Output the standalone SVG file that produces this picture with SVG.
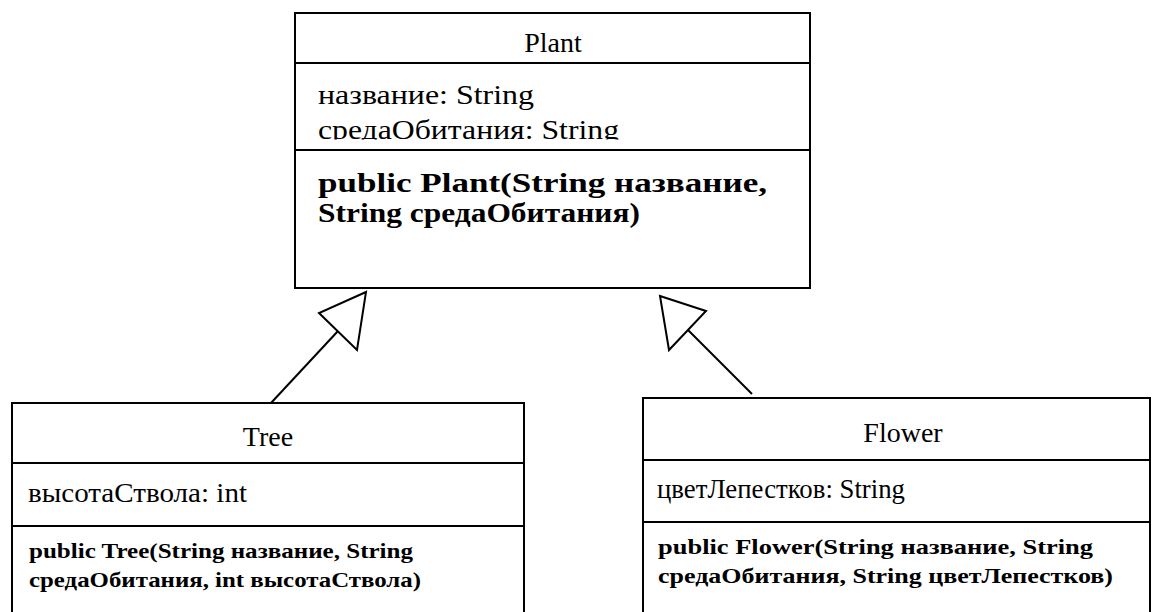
<svg xmlns="http://www.w3.org/2000/svg" width="1165" height="612" viewBox="0 0 1165 612">
  <style>
    .box { fill: #ffffff; stroke: #000000; stroke-width: 2; }
    .div { stroke: #000000; stroke-width: 2; }
    .title { font-size: 28px; text-anchor: middle; }
    .attr { font-size: 28px; }
    .attr2 { font-size: 27px; }
    .meth { font-size: 28px; font-weight: bold; }
    .meth2 { font-size: 22px; font-weight: bold; }
    .edge { fill: none; stroke: #000000; stroke-width: 2; }
    .head { fill: #ffffff; stroke: #000000; stroke-width: 2; stroke-linejoin: miter; }
  </style>
  <defs>
    <!-- attribute compartment of Plant is too short for its second line -->
    <clipPath id="plantAttrClip">
      <rect x="295" y="63" width="515" height="76.5"/>
    </clipPath>
  </defs>
  <rect width="1165" height="612" fill="#ffffff"/>

  <g id="Plant" font-family="Liberation Serif" fill="#000000">
    <rect class="box" x="295" y="13" width="515" height="275"/>
    <line class="div" x1="295" y1="63" x2="810" y2="63"/>
    <line class="div" x1="295" y1="150" x2="810" y2="150"/>
    <text class="title" x="553" y="52">Plant</text>
    <g clip-path="url(#plantAttrClip)">
      <text class="attr" x="318" y="104" textLength="216" lengthAdjust="spacingAndGlyphs">название: String</text>
      <text class="attr" x="318" y="138.5" textLength="301" lengthAdjust="spacingAndGlyphs">средаОбитания: String</text>
    </g>
    <text class="meth" x="318" y="192" textLength="449" lengthAdjust="spacingAndGlyphs">public Plant(String название,</text>
    <text class="meth" x="318" y="222" textLength="322" lengthAdjust="spacingAndGlyphs">String средаОбитания)</text>
  </g>

  <g id="Tree" font-family="Liberation Serif" fill="#000000">
    <rect class="box" x="12" y="403" width="512" height="220"/>
    <line class="div" x1="12" y1="463" x2="524" y2="463"/>
    <line class="div" x1="12" y1="526" x2="524" y2="526"/>
    <text class="title" x="268" y="446">Tree</text>
    <text class="attr2" x="28" y="502" textLength="219" lengthAdjust="spacingAndGlyphs">высотаСтвола: int</text>
    <text class="meth2" x="29" y="557.5" textLength="384" lengthAdjust="spacingAndGlyphs">public Tree(String название, String</text>
    <text class="meth2" x="29" y="587" textLength="392" lengthAdjust="spacingAndGlyphs">средаОбитания, int высотаСтвола)</text>
  </g>

  <g id="Flower" font-family="Liberation Serif" fill="#000000">
    <rect class="box" x="643" y="398" width="507" height="225"/>
    <line class="div" x1="643" y1="460" x2="1150" y2="460"/>
    <line class="div" x1="643" y1="522" x2="1150" y2="522"/>
    <text class="title" x="903" y="442">Flower</text>
    <text class="attr2" x="657" y="498" textLength="248" lengthAdjust="spacingAndGlyphs">цветЛепестков: String</text>
    <text class="meth2" x="658" y="553.5" textLength="435" lengthAdjust="spacingAndGlyphs">public Flower(String название, String</text>
    <text class="meth2" x="658" y="583" textLength="455" lengthAdjust="spacingAndGlyphs">средаОбитания, String цветЛепестков)</text>
  </g>

  <g id="connectors">
    <!-- Tree generalizes Plant -->
    <line class="edge" x1="271" y1="403" x2="338" y2="331"/>
    <polygon class="head" points="366,292 319,313 357,350"/>
    <!-- Flower generalizes Plant -->
    <line class="edge" x1="752" y1="394" x2="688" y2="330"/>
    <polygon class="head" points="660,296 706,311 669,350"/>
  </g>
</svg>
